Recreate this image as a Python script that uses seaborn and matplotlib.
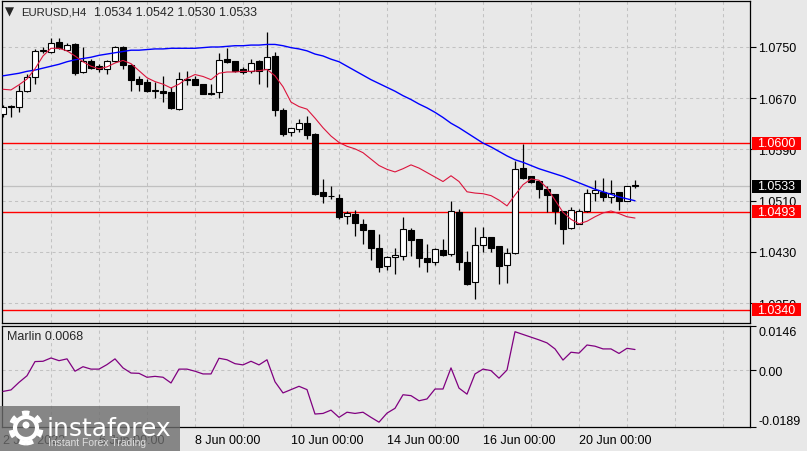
import matplotlib
matplotlib.use("Agg")
import matplotlib.pyplot as plt
import matplotlib.transforms as mtransforms
from matplotlib.patches import Rectangle, Circle
import numpy as np
import pandas as pd
import seaborn as sns

# ---------------- data (EURUSD H4, 2 Jun 2022 00:00 .. 21 Jun 2022 04:00) ----------------
opens = [1.0645, 1.0658, 1.0657, 1.0682, 1.0703, 1.0744, 1.0742, 1.0758, 1.0746, 1.0754,
         1.0711, 1.0728, 1.0720, 1.0715, 1.0728, 1.0750, 1.0722, 1.0700, 1.0695, 1.0682,
         1.0682, 1.0679, 1.0653, 1.0700, 1.0700, 1.0692, 1.0678, 1.0679, 1.0731, 1.0728,
         1.0716, 1.0712, 1.0728, 1.0716, 1.0736, 1.0652, 1.0617, 1.0622, 1.0631, 1.0614,
         1.0523, 1.0517, 1.0515, 1.0486, 1.0489, 1.0474, 1.0464, 1.0437, 1.0408, 1.0422,
         1.0423, 1.0464, 1.0450, 1.0421, 1.0414, 1.0433, 1.0427, 1.0492, 1.0415, 1.0383,
         1.0441, 1.0453, 1.0439, 1.0409, 1.0428, 1.0561, 1.0548, 1.0541, 1.0528, 1.0521,
         1.0494, 1.0467, 1.0474, 1.0494, 1.0522, 1.0524, 1.0516, 1.0524, 1.0510, 1.0534]
highs = [1.0659, 1.0659, 1.0690, 1.0708, 1.0747, 1.0750, 1.0764, 1.0764, 1.0757, 1.0756,
         1.0750, 1.0731, 1.0723, 1.0729, 1.0752, 1.0751, 1.0723, 1.0705, 1.0700, 1.0695,
         1.0704, 1.0687, 1.0711, 1.0713, 1.0705, 1.0693, 1.0692, 1.0741, 1.0748, 1.0728,
         1.0719, 1.0731, 1.0729, 1.0773, 1.0742, 1.0654, 1.0624, 1.0637, 1.0642, 1.0616,
         1.0544, 1.0533, 1.0521, 1.0494, 1.0496, 1.0482, 1.0464, 1.0458, 1.0424, 1.0436,
         1.0484, 1.0467, 1.0450, 1.0442, 1.0437, 1.0450, 1.0509, 1.0497, 1.0432, 1.0469,
         1.0469, 1.0454, 1.0440, 1.0436, 1.0572, 1.0599, 1.0549, 1.0541, 1.0533, 1.0521,
         1.0494, 1.0500, 1.0497, 1.0529, 1.0543, 1.0545, 1.0542, 1.0524, 1.0533, 1.0542]
lows = [1.0641, 1.0641, 1.0649, 1.0680, 1.0692, 1.0740, 1.0741, 1.0747, 1.0744, 1.0706,
        1.0709, 1.0716, 1.0711, 1.0708, 1.0726, 1.0716, 1.0682, 1.0682, 1.0679, 1.0670,
        1.0664, 1.0653, 1.0652, 1.0691, 1.0690, 1.0677, 1.0675, 1.0671, 1.0725, 1.0711,
        1.0708, 1.0709, 1.0692, 1.0687, 1.0643, 1.0611, 1.0611, 1.0617, 1.0607, 1.0519,
        1.0506, 1.0513, 1.0482, 1.0474, 1.0455, 1.0442, 1.0417, 1.0399, 1.0402, 1.0396,
        1.0417, 1.0424, 1.0406, 1.0399, 1.0409, 1.0424, 1.0424, 1.0402, 1.0378, 1.0357,
        1.0430, 1.0430, 1.0380, 1.0382, 1.0427, 1.0544, 1.0538, 1.0515, 1.0492, 1.0474,
        1.0442, 1.0466, 1.0474, 1.0493, 1.0509, 1.0509, 1.0506, 1.0496, 1.0509, 1.0530]
closes = [1.0657, 1.0657, 1.0682, 1.0703, 1.0743, 1.0745, 1.0757, 1.0748, 1.0753, 1.0709,
          1.0728, 1.0717, 1.0715, 1.0728, 1.0750, 1.0722, 1.0699, 1.0693, 1.0681, 1.0683,
          1.0678, 1.0655, 1.0700, 1.0699, 1.0691, 1.0677, 1.0677, 1.0730, 1.0726, 1.0712,
          1.0711, 1.0725, 1.0713, 1.0734, 1.0652, 1.0614, 1.0623, 1.0631, 1.0613, 1.0521,
          1.0517, 1.0517, 1.0484, 1.0491, 1.0475, 1.0465, 1.0436, 1.0406, 1.0422, 1.0425,
          1.0466, 1.0448, 1.0420, 1.0414, 1.0435, 1.0426, 1.0494, 1.0414, 1.0380, 1.0441,
          1.0453, 1.0437, 1.0408, 1.0428, 1.0560, 1.0546, 1.0540, 1.0528, 1.0519, 1.0494,
          1.0466, 1.0496, 1.0494, 1.0522, 1.0526, 1.0516, 1.0522, 1.0509, 1.0533, 1.0533]
ma_slow = [1.0705, 1.0707, 1.0709, 1.0712, 1.0714, 1.0717, 1.0720, 1.0723, 1.0727, 1.0730,
           1.0732, 1.0734, 1.0737, 1.0739, 1.0741, 1.0743, 1.0745, 1.0745, 1.0746, 1.0747,
           1.0747, 1.0748, 1.0748, 1.0748, 1.0748, 1.0749, 1.0750, 1.0750, 1.0751, 1.0752,
           1.0752, 1.0753, 1.0753, 1.0754, 1.0754, 1.0752, 1.0749, 1.0747, 1.0744, 1.0739,
           1.0736, 1.0731, 1.0727, 1.0720, 1.0713, 1.0706, 1.0699, 1.0693, 1.0687, 1.0681,
           1.0674, 1.0668, 1.0661, 1.0655, 1.0648, 1.0640, 1.0631, 1.0624, 1.0616, 1.0608,
           1.0600, 1.0594, 1.0587, 1.0580, 1.0574, 1.0570, 1.0565, 1.0560, 1.0556, 1.0552,
           1.0548, 1.0543, 1.0538, 1.0533, 1.0528, 1.0524, 1.0520, 1.0516, 1.0513, 1.0510]
ma_fast = [1.0684, 1.0683, 1.0691, 1.0700, 1.0716, 1.0736, 1.0748, 1.0748, 1.0744, 1.0736,
           1.0727, 1.0720, 1.0716, 1.0719, 1.0725, 1.0729, 1.0724, 1.0713, 1.0702, 1.0696,
           1.0692, 1.0686, 1.0692, 1.0701, 1.0707, 1.0704, 1.0699, 1.0709, 1.0711, 1.0711,
           1.0712, 1.0712, 1.0713, 1.0715, 1.0705, 1.0688, 1.0664, 1.0657, 1.0653, 1.0639,
           1.0624, 1.0611, 1.0601, 1.0595, 1.0591, 1.0585, 1.0575, 1.0565, 1.0559, 1.0555,
           1.0560, 1.0566, 1.0561, 1.0554, 1.0547, 1.0540, 1.0549, 1.0540, 1.0524, 1.0522,
           1.0521, 1.0518, 1.0511, 1.0502, 1.0519, 1.0535, 1.0544, 1.0542, 1.0530, 1.0511,
           1.0492, 1.0481, 1.0474, 1.0478, 1.0485, 1.0491, 1.0494, 1.0490, 1.0485, 1.0483]
marlin = [-0.0071, -0.0066, -0.0041, -0.0019, 0.0028, 0.0029, 0.0040, 0.0031, 0.0037, -0.0004,
          0.0011, 0.0003, 0.0003, 0.0018, 0.0037, 0.0007, -0.0010, -0.0011, -0.0024, -0.0021,
          -0.0024, -0.0043, 0.0003, 0.0003, -0.0004, -0.0013, -0.0013, 0.0039, 0.0034, 0.0021,
          0.0017, 0.0029, 0.0017, 0.0034, -0.0039, -0.0076, -0.0065, -0.0054, -0.0065, -0.0146,
          -0.0144, -0.0133, -0.0157, -0.0140, -0.0144, -0.0140, -0.0157, -0.0173, -0.0143, -0.0127,
          -0.0082, -0.0085, -0.0102, -0.0096, -0.0063, -0.0063, 0.0007, -0.0060, -0.0080, -0.0013,
          0.0003, -0.0002, -0.0027, 0.0000, 0.0127, 0.0118, 0.0109, 0.0100, 0.0090, 0.0070,
          0.0033, 0.0059, 0.0056, 0.0083, 0.0079, 0.0070, 0.0070, 0.0055, 0.0072, 0.0068]

price_ticks = [1.0350, 1.0430, 1.0510, 1.0590, 1.0670, 1.0750]
level_lines = [1.0600, 1.0493, 1.0340]
last_price = 1.0533
marlin_ticks = [-0.0189, 0.0, 0.0146]
marlin_tick_labels = ["-0.0189", "0.00", "0.0146"]
date_ticks = [0, 12, 24, 36, 48, 60, 72]
date_labels = ["2 Jun 2022", "6 Jun 00:00", "8 Jun 00:00", "10 Jun 00:00",
               "14 Jun 00:00", "16 Jun 00:00", "20 Jun 00:00"]
day_grid = [6, 12, 18, 24, 30, 36, 42, 48, 54, 60, 66, 72, 78, 84, 90]
symbol_text = "EURUSD,H4"
ohlc_text = "1.0534 1.0542 1.0530 1.0533"
indicator_text = "Marlin 0.0068"

# ---------------- styling ----------------
sns.set_style("white")
plt.rcParams['font.family'] = ['Liberation Sans', 'DejaVu Sans']

BG = '#e8e8e8'
W, H = 807, 452
fig = plt.figure(figsize=(W / 100, H / 100), dpi=100, facecolor=BG)


def rect(x0, y0, x1, y1):
    return [x0 / W, 1 - y1 / H, (x1 - x0) / W, (y1 - y0) / H]


ax = fig.add_axes(rect(2, 2, 750, 324))
ax2 = fig.add_axes(rect(2, 327, 750, 428))
for a in (ax, ax2):
    a.set_facecolor(BG)
    for s in a.spines.values():
        s.set_color('black')
        s.set_linewidth(0.9)
    a.set_xlim(-0.125, 93.375)

df = pd.DataFrame({'i': np.arange(len(opens)), 'open': opens, 'high': highs,
                   'low': lows, 'close': closes, 'ma_slow': ma_slow,
                   'ma_fast': ma_fast, 'marlin': marlin})

grid_kw = dict(color='#c2c2c2', lw=0.75, ls=(0, (3, 3)), zorder=0.5)
for d in day_grid:
    ax.axvline(d, **grid_kw)
    ax2.axvline(d, **grid_kw)
for p in price_ticks:
    ax.axhline(p, **grid_kw)
ax2.axhline(0, **grid_kw)

# level lines
ax.axhline(last_price, color='#c0c0c0', lw=0.9, zorder=1)
for p in level_lines:
    ax.axhline(p, color='#ff0000', lw=1.0, zorder=1.5)

# candles
up = df['close'] >= df['open']
ax.vlines(df['i'], df['low'], df['high'], color='black', lw=0.9, zorder=3)
ax.bar(df['i'], (df['close'] - df['open']).abs(), bottom=np.minimum(df['open'], df['close']),
       width=0.66, color=np.where(up, 'white', 'black'), edgecolor='black',
       linewidth=0.8, zorder=4)

# moving averages
sns.lineplot(data=df, x='i', y='ma_slow', ax=ax, color='#0000ff', lw=1.0,
             estimator=None, zorder=5)
sns.lineplot(data=df, x='i', y='ma_fast', ax=ax, color='#dc143c', lw=0.8,
             estimator=None, zorder=5)
ax.set_xlabel('')
ax.set_ylabel('')
ax.set_ylim(1.031917, 1.08218)
ax.set_xticks([])
ax.yaxis.tick_right()
ax.set_yticks(price_ticks)
ax.set_yticklabels([f'{p:.4f}' for p in price_ticks])
ax.tick_params(axis='y', length=4, width=0.8, pad=2, labelsize=9, colors='black')

# price label boxes
trans = mtransforms.blended_transform_factory(ax.transAxes, ax.transData)
ppx = (ax.get_ylim()[1] - ax.get_ylim()[0]) / 322.0
for p, fc in [(level_lines[0], '#ff0000'), (level_lines[1], '#ff0000'),
              (level_lines[2], '#ff0000'), (last_price, 'black')]:
    ax.add_patch(Rectangle(((752 - 2) / 748, p - 6.5 * ppx), 49 / 748, 13 * ppx,
                           transform=trans, facecolor=fc, edgecolor='none',
                           clip_on=False, zorder=6))
    ax.text((757 - 2) / 748, p, f'{p:.4f}', transform=trans, color='white',
            fontsize=9, va='center', ha='left', zorder=7, clip_on=False)

# indicator panel
sns.lineplot(data=df, x='i', y='marlin', ax=ax2, color='#800080', lw=0.9,
             estimator=None, zorder=4)
ax2.set_xlabel('')
ax2.set_ylabel('')
ax2.set_ylim(marlin_ticks[0], marlin_ticks[-1])
ax2.yaxis.tick_right()
ax2.set_yticks(marlin_ticks)
ax2.set_yticklabels(marlin_tick_labels)
ax2.tick_params(axis='y', length=4, width=0.8, pad=2, labelsize=9, colors='black')
ylabs = ax2.get_yticklabels()
ylabs[0].set_va('bottom')
ylabs[2].set_va('top')
ax2.set_xticks(date_ticks)
ax2.set_xticklabels(date_labels, ha='left')
ax2.tick_params(axis='x', length=3, width=0.8, pad=2, labelsize=9, colors='black')

# texts
fig.text(5 / W, 1 - 12 / H, '\u25bc', fontsize=8.5, va='center', ha='left',
         family=['DejaVu Sans'])
fig.text(21 / W, 1 - 12.5 / H, symbol_text, fontsize=8.2, va='center', ha='left')
fig.text(94 / W, 1 - 12.5 / H, ohlc_text, fontsize=9, va='center', ha='left')
fig.text(7 / W, 1 - 337 / H, indicator_text, fontsize=9, va='center', ha='left')

# watermark
fig.patches.append(Rectangle((0, 0), 180 / W, 45 / H, transform=fig.transFigure,
                             facecolor='#6e6e6e', alpha=0.8, edgecolor='none', zorder=10))
fig.patches.append(Circle((0.26, 0.23), 0.11, transform=fig.dpi_scale_trans,
                          fill=False, edgecolor='white', lw=3, zorder=11))
fig.patches.append(Circle((0.26, 0.23), 0.15, transform=fig.dpi_scale_trans,
                          fill=False, edgecolor='white', lw=3.5, ls=(0, (1.5, 1.5)), zorder=11))
fig.patches.append(Circle((0.26, 0.26), 0.035, transform=fig.dpi_scale_trans,
                          facecolor='white', edgecolor='none', zorder=11))
fig.text(47 / W, 1 - 436 / H, 'instaforex', fontsize=18, color='white',
         va='baseline', ha='left', family=['DejaVu Sans'], zorder=12)
fig.text(48 / W, 1 - 443.5 / H, 'Instant Forex Trading', fontsize=7.5,
         color='#dedede', va='center', ha='left', zorder=12)

fig.savefig('out.png', dpi=100, facecolor=BG)
